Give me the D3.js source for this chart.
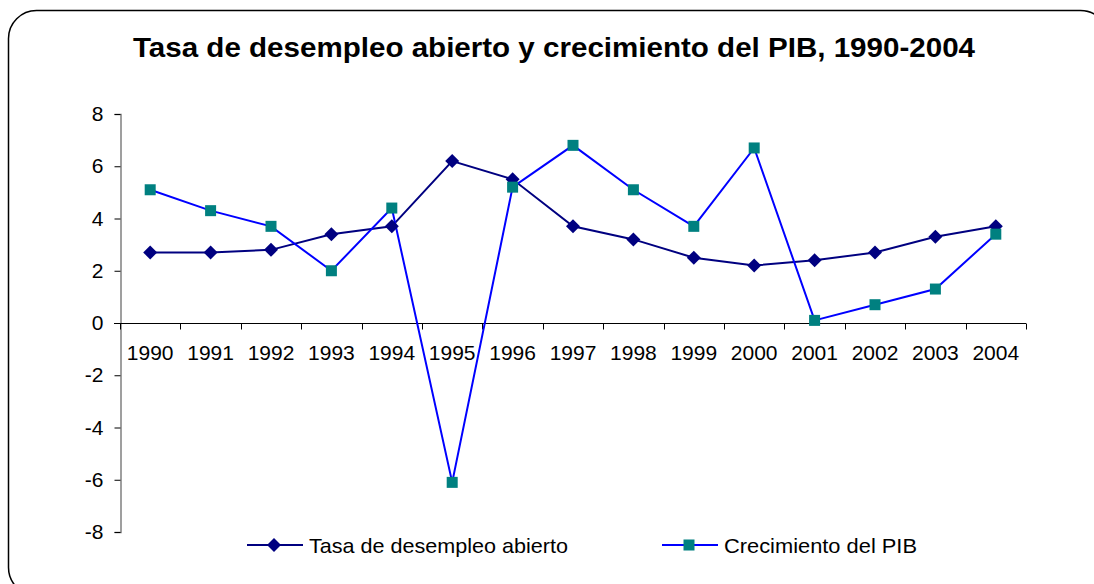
<!DOCTYPE html>
<html>
<head>
<meta charset="utf-8">
<script src="https://cdn.jsdelivr.net/npm/d3@7"></script>
<style>
  body { margin: 0; background: #fff; }
  svg { display: block; font-family: Arial, "Liberation Sans", sans-serif; }
</style>
</head>
<body>
<svg id="chart" width="1094" height="584"></svg>
<script>
var years = ['1990', '1991', '1992', '1993', '1994', '1995', '1996', '1997',
             '1998', '1999', '2000', '2001', '2002', '2003', '2004'];
var desempleo = [2.7, 2.7, 2.8, 3.4, 3.7, 6.2, 5.5, 3.7, 3.2, 2.5, 2.2, 2.4, 2.7, 3.3, 3.7];
var pib = [5.1, 4.3, 3.7, 2.0, 4.4, -6.1, 5.2, 6.8, 5.1, 3.7, 6.7, 0.1, 0.7, 1.3, 3.4];
var yTicks = [-8, -6, -4, -2, 0, 2, 4, 6, 8];

var svg = d3.select('#chart');

// frame with rounded corners, runs off the bottom-right
svg.append('rect')
  .attr('x', 8.5)
  .attr('y', 10.5)
  .attr('width', 1100)
  .attr('height', 585)
  .attr('rx', 28)
  .style('fill', '#fff')
  .style('stroke', '#000')
  .style('stroke-width', 1.5)
;

svg.append('text')
  .attr('x', 554)
  .attr('y', 57)
  .attr('text-anchor', 'middle')
  .attr('textLength', 842)
  .attr('lengthAdjust', 'spacingAndGlyphs')
  .style('font-size', '27px')
  .style('font-weight', 'bold')
  .text('Tasa de desempleo abierto y crecimiento del PIB, 1990-2004')
;

var x = d3.scaleBand()
  .domain(years)
  .range([120, 1026])
;
var y = d3.scaleLinear()
  .domain([-8, 8])
  .range([532, 114])
;

// y axis
var yAxis = svg.append('g')
  .attr('transform', 'translate(120.5,0)')
  .call(d3.axisLeft(y).tickValues(yTicks).tickSize(6).tickPadding(11).tickFormat(d3.format('d')))
;
yAxis.select('.domain').style('stroke', '#808080').style('stroke-width', 1.5);
yAxis.selectAll('.tick line').style('stroke', '#000');
yAxis.selectAll('.tick text')
  .style('font-size', '21px')
  .style('fill', '#000')
  .text(function(d) { return d < 0 ? '-' + Math.abs(d) : d; })
;

// x axis at zero, ticks between categories
var xAxis = svg.append('g')
  .attr('transform', 'translate(0,' + (Math.round(y(0)) + 0.5) + ')')
;
xAxis.append('line')
  .attr('x1', 114)
  .attr('x2', 1026)
  .style('stroke', '#000')
  .style('stroke-width', 1.2)
;
xAxis.selectAll('line.tk')
  .data(years.concat(['end']))
  .enter().append('line')
  .attr('class', 'tk')
  .attr('x1', function(d, i) { return Math.round(120 + i * x.step()) + 0.5; })
  .attr('x2', function(d, i) { return Math.round(120 + i * x.step()) + 0.5; })
  .attr('y1', 0)
  .attr('y2', 6)
  .style('stroke', '#000')
;
xAxis.selectAll('text')
  .data(years)
  .enter().append('text')
  .attr('x', function(d) { return x(d) + x.bandwidth() / 2; })
  .attr('y', 36)
  .attr('text-anchor', 'middle')
  .style('font-size', '21px')
  .text(function(d) { return d; })
;

var cx = function(d, i) { return x(years[i]) + x.bandwidth() / 2; };
var line = d3.line()
  .x(cx)
  .y(function(d) { return y(d); })
;

svg.append('path')
  .datum(desempleo)
  .attr('d', line)
  .style('fill', 'none')
  .style('stroke', '#000080')
  .style('stroke-width', 2)
;
svg.append('path')
  .datum(pib)
  .attr('d', line)
  .style('fill', 'none')
  .style('stroke', '#0000ff')
  .style('stroke-width', 2)
;

var diamond = 'M0,-7L7,0L0,7L-7,0Z';

svg.selectAll('path.dia')
  .data(desempleo)
  .enter().append('path')
  .attr('class', 'dia')
  .attr('d', diamond)
  .attr('transform', function(d, i) { return 'translate(' + cx(d, i) + ',' + y(d) + ')'; })
  .style('fill', '#000080')
;
svg.selectAll('rect.sq')
  .data(pib)
  .enter().append('rect')
  .attr('class', 'sq')
  .attr('x', function(d, i) { return cx(d, i) - 5.5; })
  .attr('y', function(d) { return y(d) - 5.5; })
  .attr('width', 11)
  .attr('height', 11)
  .style('fill', '#008080')
;

// legend
var legend = [
  {name: 'Tasa de desempleo abierto', x: 247, w: 259, stroke: '#000080', mark: 'dia'},
  {name: 'Crecimiento del PIB', x: 662, w: 193, stroke: '#0000ff', mark: 'sq'}
];
var lg = svg.selectAll('g.lg')
  .data(legend)
  .enter().append('g')
  .attr('class', 'lg')
  .attr('transform', function(d) { return 'translate(' + d.x + ',545)'; })
;
lg.append('line')
  .attr('x1', 0)
  .attr('x2', 56)
  .style('stroke', function(d) { return d.stroke; })
  .style('stroke-width', 2)
;
lg.filter(function(d) { return d.mark == 'dia'; })
  .append('path')
  .attr('d', diamond)
  .attr('transform', 'translate(27,0)')
  .style('fill', '#000080')
;
lg.filter(function(d) { return d.mark == 'sq'; })
  .append('rect')
  .attr('x', 21.5)
  .attr('y', -5.5)
  .attr('width', 11)
  .attr('height', 11)
  .style('fill', '#008080')
;
lg.append('text')
  .attr('x', 62)
  .attr('y', 7.5)
  .attr('textLength', function(d) { return d.w; })
  .attr('lengthAdjust', 'spacingAndGlyphs')
  .style('font-size', '21px')
  .text(function(d) { return d.name; })
;
</script>
</body>
</html>
